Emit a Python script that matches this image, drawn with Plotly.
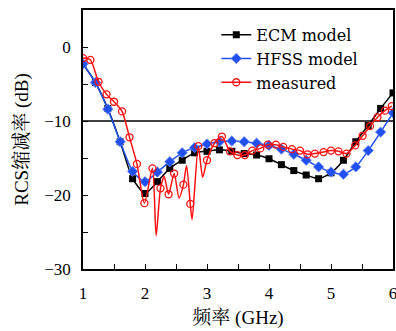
import plotly.graph_objects as go

# ---- data ----
freq_model = [1.0, 1.2, 1.4, 1.6, 1.8, 2.0, 2.2, 2.4, 2.6, 2.8, 3.0, 3.2, 3.4, 3.6, 3.8,
              4.0, 4.2, 4.4, 4.6, 4.8, 5.0, 5.2, 5.4, 5.6, 5.8, 6.0]
ecm_model = [-2.3, -4.8, -8.3, -12.8, -17.8, -19.8, -18.2, -16.4, -15.3, -14.3, -14.1, -13.9,
             -14.1, -14.4, -14.6, -15.1, -15.9, -16.7, -17.3, -17.8, -17.0, -15.3, -12.8,
             -10.6, -8.3, -6.2]
hfss_model = [-2.3, -4.8, -8.4, -12.8, -16.8, -18.2, -16.9, -15.5, -14.3, -13.6, -13.1, -12.8,
              -12.7, -12.8, -13.0, -13.3, -13.8, -14.5, -15.3, -16.2, -16.9, -17.2, -16.2,
              -14.0, -11.5, -8.9]

meas_freq = [1.00, 1.12, 1.25, 1.38, 1.50, 1.63, 1.75, 1.87, 1.99, 2.12, 2.18, 2.25, 2.31,
             2.38, 2.47, 2.55, 2.62, 2.67, 2.73, 2.76, 2.86, 2.93, 3.00, 3.12, 3.24, 3.37,
             3.49, 3.61, 3.73, 3.86, 3.98, 4.11, 4.23, 4.37, 4.50, 4.62, 4.74, 4.88, 5.00,
             5.12, 5.25, 5.39, 5.51, 5.63, 5.75, 5.87, 5.98]
meas_val = [-1.5, -1.75, -4.7, -6.4, -7.4, -8.7, -12.2, -15.8, -21.1, -16.4, -25.5, -19.1,
            -17.5, -19.9, -17.1, -20.4, -18.6, -16.0, -21.2, -23.3, -13.4, -17.6, -15.3,
            -13.0, -12.1, -14.1, -14.6, -14.6, -14.0, -13.7, -13.2, -13.2, -13.5, -13.8,
            -14.0, -14.5, -14.4, -14.2, -14.0, -14.1, -14.4, -13.3, -12.0, -10.7, -9.5,
            -8.6, -8.0]
# 1 = point carries a circle marker, 0 = line-only point
meas_has_marker = [1, 1, 1, 1, 1, 1, 1, 1, 1, 1, 0, 1, 0, 1, 1, 0, 1, 0, 1, 0, 1, 0, 1,
                   1, 1, 1, 1, 1, 1, 1, 1, 1, 1, 1, 1, 1, 1, 1, 1, 1, 1, 1, 1, 1, 1, 1, 1]

x_ticks = [1, 2, 3, 4, 5, 6]
y_ticks = [-30, -20, -10, 0]
reference_level = -10

serif = "Liberation Serif, Tinos, Times New Roman, serif"
legend_serif = "DejaVu Serif, serif"
title_font = "Liberation Serif, Tinos, Times New Roman, Noto Serif CJK SC, Noto Sans CJK SC, serif"
BLACK = "#000000"
BLUE = "#2050f0"
RED = "#ff1010"

fig = go.Figure()
fig.add_trace(go.Scatter(
    x=freq_model, y=ecm_model, name="ECM model", mode="lines+markers",
    line=dict(color=BLACK, width=1.5, shape="spline", smoothing=0.6),
    marker=dict(symbol="square", size=7, color=BLACK)))
fig.add_trace(go.Scatter(
    x=freq_model, y=hfss_model, name="HFSS model", mode="lines+markers",
    line=dict(color=BLUE, width=1.5, shape="spline", smoothing=0.6),
    marker=dict(symbol="diamond", size=8, color=BLUE,
                line=dict(color="#6f8cff", width=0.8))))
fig.add_trace(go.Scatter(
    x=meas_freq, y=meas_val, name="measured", mode="lines+markers",
    line=dict(color=RED, width=1.5, shape="spline", smoothing=0.7),
    marker=dict(symbol="circle-open", size=7,
                color=[RED if m else "rgba(0,0,0,0)" for m in meas_has_marker],
                line=dict(width=1.3))))

fig.add_shape(type="line", xref="paper", yref="y", x0=0, x1=1,
              y0=reference_level, y1=reference_level,
              line=dict(color=BLACK, width=1.3), layer="below")

axis_common = dict(showgrid=False, zeroline=False, showline=True, linecolor=BLACK,
                   linewidth=1.5, mirror=True, ticks="inside", ticklen=5, tickwidth=1.3,
                   tickcolor=BLACK, automargin=False, ticklabeloverflow="allow",
                   tickfont=dict(family=serif, size=17, color=BLACK))

fig.update_xaxes(range=[1, 6], tickvals=x_ticks, ticktext=[str(v) for v in x_ticks],
                 ticklabelstandoff=8,
                 minor=dict(ticks="inside", dtick=0.5, ticklen=5, tickwidth=1.3,
                            tickcolor=BLACK),
                 title=dict(text="频率 (GHz)", font=dict(family=title_font, size=19, color=BLACK),
                            standoff=9),
                 **axis_common)
fig.update_yaxes(range=[-30, 5], tickvals=y_ticks, ticklabelstandoff=7,
                 minor=dict(ticks="inside", tickvals=[-25, -15, -5], ticklen=5,
                            tickwidth=1.3, tickcolor=BLACK),
                 title=dict(text="RCS缩减率 (dB)", font=dict(family=title_font, size=19, color=BLACK),
                            standoff=11),
                 **axis_common)

fig.update_layout(
    width=396, height=331,
    margin=dict(l=83, r=3, t=10, b=62),
    plot_bgcolor="white", paper_bgcolor="white",
    font=dict(family=serif, color=BLACK),
    legend=dict(x=0.43, y=0.97, xanchor="left", yanchor="top",
                bgcolor="rgba(255,255,255,0)", borderwidth=0,
                font=dict(family=legend_serif, size=16, color=BLACK),
                tracegroupgap=0, itemwidth=30),
    showlegend=True,
)

# remove the default page margin so the 396x331 figure fills the window exactly
fig.write_html("out.html",
               config={"displayModeBar": False},
               post_script="document.body.style.margin='0';document.body.style.overflow='hidden';")
